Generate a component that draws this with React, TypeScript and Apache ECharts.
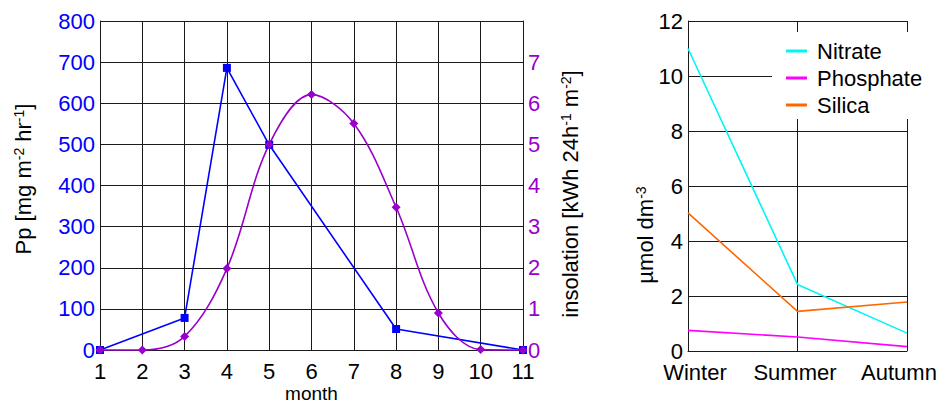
import React, { useEffect, useRef } from "react";
import * as echarts from "echarts";

const ppPoints: [number, number][] = [
  [1, 0], [3, 78], [4, 686], [5, 499], [8, 51], [11, 0],
];
const insolationPoints: [number, number][] = [
  [1, 0], [2, 0], [3, 0.33], [4, 1.98], [5, 5.0], [6, 6.21],
  [7, 5.51], [8, 3.47], [9, 0.9], [10, 0.01], [11, 0],
];
const seasons = ["Winter", "Summer", "Autumn"];
const nitrate = [11.0, 2.42, 0.65];
const phosphate = [0.75, 0.51, 0.16];
const silica = [5.02, 1.44, 1.78];

const FONT = "'Liberation Sans', Arial, sans-serif";
const BLUE = "#0000ff";
const PURPLE = "#9900cc";
const GRIDC = "#1a1a1a";

export default function App() {
  const ref = useRef<HTMLDivElement>(null);
  useEffect(() => {
    if (!ref.current) return;
    const chart = echarts.init(ref.current, undefined, { renderer: "svg" });
    const lbl = { fontFamily: FONT, fontSize: 22, color: "#000" };
    const ylbl = { ...lbl, lineHeight: 16 };
    const supRich = {
      a: { fontFamily: FONT, fontSize: 22, color: "#000" },
      s: { fontFamily: FONT, fontSize: 14, color: "#000", verticalAlign: "top" },
    };
    chart.setOption({
      animation: false,
      backgroundColor: "#fff",
      textStyle: { fontFamily: FONT },
      grid: [
        { left: 100, top: 21, width: 423, height: 329, outerBoundsMode: "none", containLabel: false },
        { left: 688, top: 21, width: 219, height: 330, outerBoundsMode: "none", containLabel: false },
      ],
      xAxis: [
        {
          type: "value", gridIndex: 0, min: 1, max: 11, interval: 1,
          axisLine: { lineStyle: { color: GRIDC, width: 1 } },
          axisTick: { show: false },
          axisLabel: { ...lbl, margin: 10 },
          splitLine: { show: true, lineStyle: { color: GRIDC, width: 1 } },
          name: "month", nameLocation: "middle", nameGap: 35, nameMoveOverlap: false,
          nameTextStyle: { fontFamily: FONT, fontSize: 19, color: "#000", lineHeight: 17 },
        },
        {
          type: "category", gridIndex: 1, data: seasons, boundaryGap: false,
          axisLine: { lineStyle: { color: GRIDC, width: 1 } },
          axisTick: { show: false },
          axisLabel: {
            ...lbl, margin: 10, interval: 0, hideOverlap: false,
            formatter: (v: string) =>
              v === "Winter" ? "{w|" + v + "}" : v === "Autumn" ? "{e|" + v + "}" : "{m|" + v + "}",
            rich: {
              w: { ...lbl, padding: [0, 0, 0, 14] },
              e: { ...lbl, padding: [0, 16, 0, 0] },
              m: { ...lbl, padding: [0, 5, 0, 0] },
            },
          },
          splitLine: { show: true, interval: 0, lineStyle: { color: GRIDC, width: 1 } },
        },
      ],
      yAxis: [
        {
          type: "value", gridIndex: 0, min: 0, max: 800, interval: 100,
          axisLine: { show: true, lineStyle: { color: GRIDC, width: 1 } },
          axisTick: { show: false },
          axisLabel: { ...ylbl, color: BLUE, margin: 5 },
          splitLine: { show: true, lineStyle: { color: GRIDC, width: 1 } },
        },
        {
          type: "value", gridIndex: 0, min: 0, max: 8, interval: 1, position: "right",
          axisLine: { show: true, lineStyle: { color: GRIDC, width: 1 } },
          axisTick: { show: false },
          axisLabel: { ...ylbl, color: PURPLE, margin: 5, showMaxLabel: false },
          splitLine: { show: false },
        },
        {
          type: "value", gridIndex: 1, min: 0, max: 12, interval: 2,
          axisLine: { show: true, lineStyle: { color: GRIDC, width: 1 } },
          axisTick: { show: false },
          axisLabel: { ...ylbl, margin: 5 },
          splitLine: { show: true, lineStyle: { color: GRIDC, width: 1 } },
        },
      ],
      legend: {
        orient: "vertical", left: 772, top: 32,
        backgroundColor: "#ffffff",
        padding: [8, 8, 3, 14],
        itemGap: 5, itemWidth: 21, itemHeight: 3, icon: "rect",
        textStyle: { fontFamily: FONT, fontSize: 22, color: "#000", padding: [0, 0, 0, 5] },
        data: ["Nitrate", "Phosphate", "Silica"],
      },
      graphic: [
        {
          type: "text", x: 23, y: 179, rotation: Math.PI / 2,
          style: {
            text: "{a|Pp [mg m}{s|-2}{a| hr}{s|-1}{a|]}",
            rich: supRich, align: "center", verticalAlign: "middle",
          },
        },
        {
          type: "text", x: 570, y: 194, rotation: Math.PI / 2,
          style: {
            text: "{a|insolation [kWh 24h}{s|-1}{a| m}{s|-2}{a|]}",
            rich: supRich, align: "center", verticalAlign: "middle",
          },
        },
        {
          type: "text", x: 645, y: 235, rotation: Math.PI / 2,
          style: {
            text: "{a|µmol dm}{s|-3}",
            rich: supRich, align: "center", verticalAlign: "middle",
          },
        },
      ],
      series: [
        {
          name: "Pp", type: "line", xAxisIndex: 0, yAxisIndex: 0,
          data: ppPoints, symbol: "rect", symbolSize: 8,
          itemStyle: { color: BLUE }, lineStyle: { color: BLUE, width: 1.6 },
        },
        {
          name: "insolation", type: "line", xAxisIndex: 0, yAxisIndex: 1,
          data: insolationPoints, smooth: 0.35, symbol: "diamond", symbolSize: 9,
          clip: false,
          itemStyle: { color: PURPLE }, lineStyle: { color: PURPLE, width: 1.6 },
        },
        {
          name: "Nitrate", type: "line", xAxisIndex: 1, yAxisIndex: 2,
          data: nitrate, symbol: "none",
          itemStyle: { color: "#00f5f5" }, lineStyle: { color: "#00f5f5", width: 1.6 },
        },
        {
          name: "Phosphate", type: "line", xAxisIndex: 1, yAxisIndex: 2,
          data: phosphate, symbol: "none",
          itemStyle: { color: "#ff00ff" }, lineStyle: { color: "#ff00ff", width: 1.6 },
        },
        {
          name: "Silica", type: "line", xAxisIndex: 1, yAxisIndex: 2,
          data: silica, symbol: "none",
          itemStyle: { color: "#ff6600" }, lineStyle: { color: "#ff6600", width: 1.6 },
        },
      ],
    });
    return () => chart.dispose();
  }, []);
  return (
    <div
      ref={ref}
      style={{ position: "fixed", left: 0, top: 0, width: 941, height: 404 }}
    />
  );
}
